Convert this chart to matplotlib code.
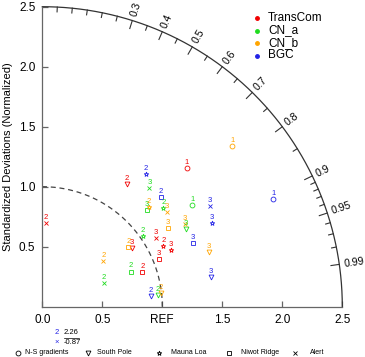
import numpy as np
import matplotlib.pyplot as plt
from matplotlib.lines import Line2D

plt.rcParams['font.family'] = ['Liberation Sans', 'DejaVu Sans']

# Станции (маркеры)
sites = ['N-S gradients', 'South Pole', 'Mauna Loa', 'Niwot Ridge', 'Alert']
site_markers = ['o', 'v', '*', 's', 'x']

models = ['TransCom', 'CN_a', 'CN_b', 'BGC']
model_colors = ['#f00000', '#1fdc1f', '#ffa500', '#2222e6']

# TransCom
transcom_site = [0, 1, 4, 4, 2, 2, 1, 3, 3]
transcom_case = [1, 2, 2, 3, 2, 3, 3, 3, 2]
transcom_ratio = [1.670, 1.241, 0.695, 1.106, 1.129, 1.170, 0.893, 1.049, 0.883]
transcom_cc = [0.720, 0.570, 0.040, 0.857, 0.893, 0.915, 0.834, 0.926, 0.944]

# CN_a
cna_site = [0, 4, 3, 2, 2, 1, 3, 4, 1]
cna_case = [1, 3, 3, 2, 2, 3, 2, 2, 2]
cna_ratio = [1.510, 1.330, 1.186, 1.299, 1.023, 1.361, 0.792, 0.552, 0.965]
cna_cc = [0.828, 0.671, 0.733, 0.776, 0.817, 0.880, 0.929, 0.932, 0.995]

# CN_b
cnb_site = [0, 2, 4, 3, 4, 1, 3, 4, 1]
cnb_case = [1, 2, 3, 3, 3, 3, 2, 2, 2]
cnb_ratio = [2.073, 1.219, 1.303, 1.236, 1.374, 1.463, 0.874, 0.634, 0.992]
cnb_cc = [0.764, 0.730, 0.795, 0.849, 0.866, 0.950, 0.820, 0.801, 0.993]

# BGC
bgc_site = [0, 2, 3, 4, 2, 3, 1, 1]
bgc_case = [1, 2, 2, 3, 3, 3, 3, 2]
bgc_ratio = [2.122, 1.407, 1.347, 1.631, 1.572, 1.366, 1.425, 0.907]
bgc_cc = [0.907, 0.615, 0.732, 0.857, 0.897, 0.921, 0.985, 0.995]

# точка вне диаграммы (BGC, Alert)
out_case = 2
out_ratio = 2.26
out_cc = -0.87

model_data = [
    (transcom_site, transcom_case, transcom_ratio, transcom_cc),
    (cna_site, cna_case, cna_ratio, cna_cc),
    (cnb_site, cnb_case, cnb_ratio, cnb_cc),
    (bgc_site, bgc_case, bgc_ratio, bgc_cc),
]

cc_major = [0.3, 0.4, 0.5, 0.6, 0.7, 0.8, 0.9, 0.95, 0.99]
cc_minor = [0.05, 0.1, 0.15, 0.2, 0.25, 0.35, 0.45, 0.55, 0.65, 0.75, 0.85,
            0.91, 0.92, 0.93, 0.94, 0.96, 0.97, 0.98]

W, H = 365, 357
fig = plt.figure(figsize=(W / 100, H / 100), dpi=100)
ax = fig.add_axes([42.3 / W, 50.3 / H, 300 / W, 300 / H])
ax.set_xlim(0, 2.5)
ax.set_ylim(0, 2.5)
ax.set_aspect('equal')

axis_col = '#666666'
for s in ['top', 'right']:
    ax.spines[s].set_visible(False)
for s in ['left', 'bottom']:
    ax.spines[s].set_color(axis_col)
    ax.spines[s].set_linewidth(0.9)

ax.set_xticks([0, 0.5, 1.0, 1.5, 2.0, 2.5])
ax.set_xticklabels(['0.0', '0.5', 'REF', '1.5', '2.0', '2.5'])
ax.set_yticks([0.5, 1.0, 1.5, 2.0, 2.5])
ax.set_yticklabels(['0.5', '1.0', '1.5', '2.0', '2.5'])
ax.tick_params(direction='in', length=4, width=0.9, color=axis_col,
               labelsize=8.5, pad=5)
ax.set_ylabel('Standardized Deviations (Normalized)', fontsize=8, labelpad=4)

# внешняя дуга и дуга REF
th = np.linspace(0, np.pi / 2, 300)
ax.plot(2.5 * np.cos(th), 2.5 * np.sin(th), color='#333333', lw=0.9, clip_on=False)
ax.plot(np.cos(th), np.sin(th), color='#444444', lw=0.9, ls=(0, (4, 3)), clip_on=False)

# засечки коэффициента корреляции
for c in cc_major + cc_minor:
    a = np.arccos(c)
    L = 0.07 if c in cc_major else 0.04
    ax.plot([2.5 * np.cos(a), (2.5 - L) * np.cos(a)],
            [2.5 * np.sin(a), (2.5 - L) * np.sin(a)],
            color='#333333', lw=0.8, clip_on=False)
for c in cc_major:
    a = np.arccos(c)
    ax.text(2.54 * np.cos(a), 2.54 * np.sin(a), str(c), fontsize=7.5,
            rotation=np.degrees(a), rotation_mode='anchor',
            ha='left', va='center', clip_on=False)

# точки
for (site, case, ratio, cc), col in zip(model_data, model_colors):
    for s, k, r, c in zip(site, case, ratio, cc):
        a = np.arccos(c)
        x, y = r * np.cos(a), r * np.sin(a)
        ax.plot(x, y, marker=site_markers[s], ms=3.5, mfc='none', mec=col,
                mew=0.6, ls='none', clip_on=False)
        ax.annotate(str(k), (x, y), xytext=(0, 4), textcoords='offset points',
                    ha='center', va='center', fontsize=5.5, color=col)

# легенда моделей
for i, (m, col) in enumerate(zip(models, model_colors)):
    yy = 1 - (18 + 12.5 * i) / H
    fig.add_artist(Line2D([257 / W], [yy], marker='o', ms=2.5, color=col,
                          ls='none', transform=fig.transFigure))
    fig.text(268 / W, yy, m, fontsize=8.5, va='center', ha='left')

# подпись для точки вне диаграммы
fig.text(57 / W, 1 - 333 / H, str(out_case), color=model_colors[3],
         fontsize=5.5, ha='center', va='center')
fig.text(57 / W, 1 - 342 / H, '\u00d7', color=model_colors[3],
         fontsize=5.5, ha='center', va='center')
fig.text(64 / W, 1 - 333 / H, f'{out_ratio:.2f}', fontsize=5.5, ha='left', va='center')
fig.text(64 / W, 1 - 342 / H, f'{out_cc:.2f}', fontsize=5.5, ha='left', va='center')
fig.add_artist(Line2D([64 / W, 79 / W], [1 - 337.5 / H] * 2, lw=0.5, color='k',
                      transform=fig.transFigure))

# легенда станций
marker_x = [18, 88, 159, 229, 295]
text_x = [25, 97, 171, 241, 310]
for s, m, mx, tx in zip(sites, site_markers, marker_x, text_x):
    fig.add_artist(Line2D([mx / W], [1 - 353 / H], marker=m, ms=3.5, mfc='none',
                          mec='k', mew=0.6, ls='none', transform=fig.transFigure))
    fig.text(tx / W, 1 - 353 / H, s, fontsize=5, ha='left', va='center')

fig.savefig('out.png', dpi=100)
